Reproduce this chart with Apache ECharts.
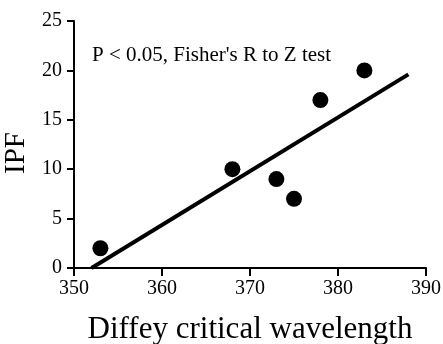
<!DOCTYPE html>
<html><head><meta charset="utf-8">
<script src="https://cdn.jsdelivr.net/npm/echarts@6/dist/echarts.min.js"></script>
<style>html,body{margin:0;padding:0;background:#fff}#c{width:443px;height:344px}</style>
</head><body><div id="c"></div>
<script>
const wavelength = [353, 368, 373, 375, 378, 383];
const ipf = [2, 10, 9, 7, 17, 20];
const fitX = [352, 388];
const fitY = [0, 19.6];
const xTicks = [350, 360, 370, 380, 390];
const yTicks = [0, 5, 10, 15, 20, 25];
const annotation = "P < 0.05, Fisher's R to Z test";

const font = 'Liberation Serif';
const chart = echarts.init(document.getElementById('c'));
chart.setOption({
  animation: false,
  backgroundColor: '#fff',
  grid: {left: 74, top: 21, right: 17, bottom: 76, outerBoundsMode: 'none', containLabel: false},
  xAxis: {
    type: 'value', min: xTicks[0], max: xTicks[xTicks.length-1], interval: 10,
    name: 'Diffey critical wavelength', nameLocation: 'middle', nameGap: 46,
    nameTextStyle: {fontFamily: font, fontSize: 31, color: '#000'},
    axisLine: {lineStyle: {color: '#000', width: 2}},
    axisTick: {show: true, length: 8, lineStyle: {color: '#000', width: 2}},
    axisLabel: {fontFamily: font, fontSize: 20, color: '#000', margin: 11},
    splitLine: {show: false}
  },
  yAxis: {
    type: 'value', min: yTicks[0], max: yTicks[yTicks.length-1], interval: 5,
    name: 'IPF', nameLocation: 'middle', nameGap: 35,
    nameTextStyle: {fontFamily: font, fontSize: 29, color: '#000', padding: [0, 17, 0, 0]},
    axisLine: {show: true, lineStyle: {color: '#000', width: 2}},
    axisTick: {show: true, length: 7, lineStyle: {color: '#000', width: 2}},
    axisLabel: {fontFamily: font, fontSize: 20, color: '#000', margin: 12},
    splitLine: {show: false}
  },
  graphic: [{
    type: 'text', left: 92, top: 45,
    style: {text: annotation, font: '21px "Liberation Serif"', fill: '#000'}
  }],
  series: [{
    type: 'line', data: fitX.map((x, i) => [x, fitY[i]]),
    showSymbol: false, lineStyle: {color: '#000', width: 4}, z: 2
  }, {
    type: 'scatter', data: wavelength.map((x, i) => [x, ipf[i]]),
    symbolSize: 16, itemStyle: {color: '#000', opacity: 1}, z: 3
  }]
});
</script></body></html>
